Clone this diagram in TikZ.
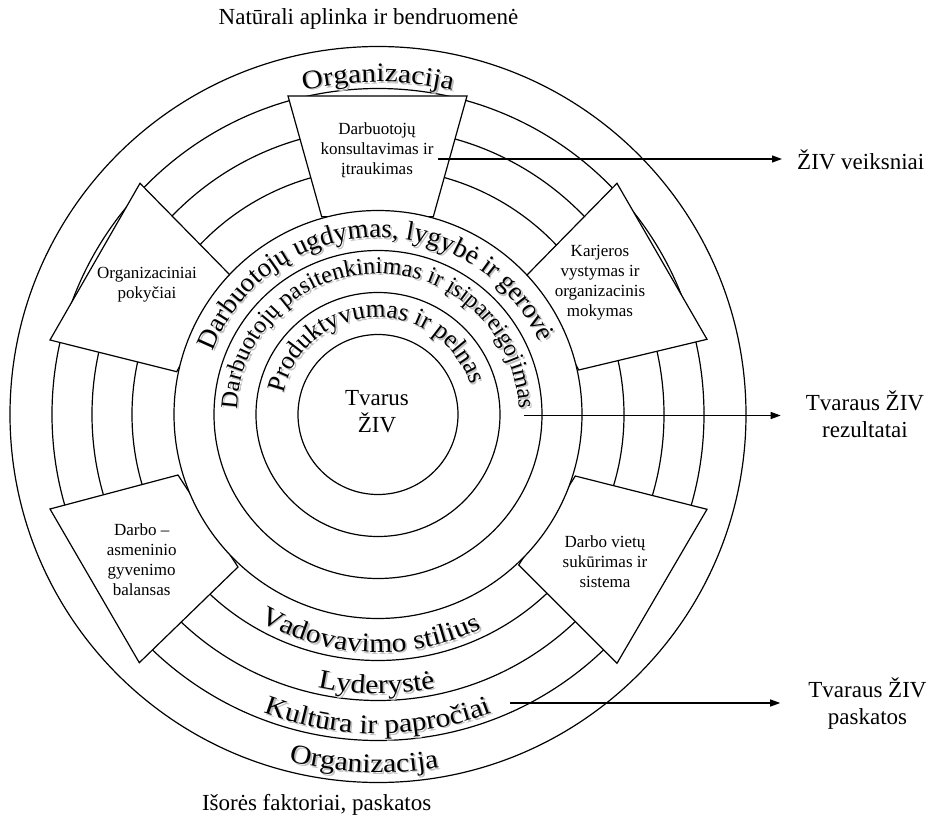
\documentclass[tikz,border=0pt]{standalone}
\usepackage{fontspec}
\setmainfont{Liberation Serif}
\newfontfamily\ringfont[FakeStretch=1.1]{Liberation Serif}
\usetikzlibrary{decorations.text,arrows.meta}

\tikzset{
  ring/.style={line width=1.2pt},
  panel/.style={draw, line width=1.2pt, fill=white, line join=miter},
  boxlabel/.style={align=center, font=\fontsize{17}{20}\selectfont, inner sep=0pt},
  sidelabel/.style={align=center, font=\fontsize{23}{27}\selectfont, inner sep=0pt},
  pointer/.style={line width=1.2pt, -{Triangle[length=10pt, width=7pt]}},
}

% text on an arc over the top of the circle, with a soft shadow
% #1 baseline radius, #2 centre angle, #3 font, #4 text
\newcommand\ArcTextTop[4]{%
  \begin{scope}[shift={(1.7,-1.7)}]
    \path[decorate, decoration={text along path, text align=center,
      text={|#3\color{black!25}|#4}}]
      ({#2+100}:#1) arc[start angle={#2+100}, end angle={#2-100}, radius=#1];
  \end{scope}
  \path[decorate, decoration={text along path, text align=center,
    text={|#3|#4}}]
    ({#2+100}:#1) arc[start angle={#2+100}, end angle={#2-100}, radius=#1];
}
% text on an arc under the bottom of the circle, reading upright
\newcommand\ArcTextBottom[4]{%
  \begin{scope}[shift={(1.7,-1.7)}]
    \path[decorate, decoration={text along path, text align=center,
      text={|#3\color{black!25}|#4}}]
      ({#2-60}:#1) arc[start angle={#2-60}, end angle={#2+60}, radius=#1];
  \end{scope}
  \path[decorate, decoration={text along path, text align=center,
    text={|#3|#4}}]
    ({#2-60}:#1) arc[start angle={#2-60}, end angle={#2+60}, radius=#1];
}

\begin{document}
\begin{tikzpicture}[x=1pt, y=1pt]
  \useasboundingbox (-378,-405.5) rectangle (559,414.5);
  \fill[white] (-378,-405.5) rectangle (559,414.5);

  % outer rings
  \draw[ring] (0,0) circle[radius=368];
  \draw[ring] (0,0) circle[radius=326];
  \draw[ring] (0,0) circle[radius=286];
  \draw[ring] (0,0) circle[radius=246];

  % the five factor panels
  \draw[panel] (-90,318.5) -- (89,318.5) -- (55.3,197.8) -- (-56.3,197.8) -- cycle;
  \draw[panel] (-238,231.2) -- (-328,74.5) -- (-201.3,42.8) -- (-148,139.5) -- cycle;
  \draw[panel] (239,231.2) -- (329,75.2) -- (200.7,44.5) -- (149,139.5) -- cycle;
  \draw[panel] (-328,-94.5) -- (-238.7,-248.2) -- (-140,-152.5) -- (-200,-60.5) -- cycle;
  \draw[panel] (197.3,-61.5) -- (329,-94.8) -- (239,-248.8) -- (140.7,-150.5) -- cycle;

  % inner rings
  \draw[ring, fill=white] (0,0) circle[radius=204];
  \draw[ring] (0,0) circle[radius=164];
  \draw[ring] (0,0) circle[radius=122];
  \draw[ring] (0,0) circle[radius=80];

  % ring captions
  \ArcTextTop{332.5}{90}{\ringfont\fontsize{26.7}{26.7}\selectfont}{Organizacija}
  \ArcTextTop{177}{91.5}{\fontsize{27}{27}\selectfont}{Darbuotojų ugdymas, lygybė ir gerovė}
  \ArcTextTop{141}{90}{\fontsize{24}{24}\selectfont}{Darbuotojų pasitenkinimas ir įsipareigojimas}
  \ArcTextTop{97}{92.5}{\fontsize{25.5}{25.5}\selectfont}{Produktyvumas ir pelnas}
  \ArcTextBottom{238}{268}{\ringfont\fontsize{27}{27}\selectfont}{Vadovavimo stilius}
  \ArcTextBottom{279}{269.7}{\ringfont\fontsize{27}{27}\selectfont}{Lyderystė}
  \ArcTextBottom{319}{270}{\ringfont\fontsize{27}{27}\selectfont}{Kultūra ir papročiai}
  \ArcTextBottom{358}{267.7}{\ringfont\fontsize{27}{27}\selectfont}{Organizacija}

  % panel captions
  \node[boxlabel] (konsult) at (-1,264.5) {Darbuotojų\\konsultavimas ir\\įtraukimas};
  \node[boxlabel] (pokyc) at (-231,129.5) {Organizaciniai\\pokyčiai};
  \node[boxlabel] (karj) at (222,131.5) {Karjeros\\vystymas ir\\organizacinis\\mokymas};
  \node[boxlabel] (balans) at (-236.3,-145.5) {Darbo –\\asmeninio\\gyvenimo\\balansas};
  \node[boxlabel] (vietu) at (227,-147.5) {Darbo vietų\\sukūrimas ir\\sistema};

  % centre and surrounding captions
  \node[sidelabel] (core) at (-1,2.5) {Tvarus\\ŽIV};
  \node[sidelabel] (natur) at (-9.5,395.5) {Natūrali aplinka ir bendruomenė};
  \node[sidelabel] (isor) at (-61.3,-390.5) {Išorės faktoriai, paskatos};
  \node[sidelabel, anchor=west] (veik) at (419,254.5) {ŽIV veiksniai};
  \node[sidelabel] (rez) at (487,0.5) {Tvaraus ŽIV\\rezultatai};
  \node[sidelabel] (pask) at (489.5,-289.5) {Tvaraus ŽIV\\paskatos};

  % pointers to the legend
  \coordinate (veik-from) at (60,255.5);
  \coordinate (rez-from) at (146,-1);
  \coordinate (pask-from) at (132,-288.5);
  \draw[pointer, shorten >=15pt] (veik-from) -- (veik-from -| veik.west);
  \draw[pointer, shorten >=25pt] (rez-from) -- (rez-from -| rez.west);
  \draw[pointer, shorten >=28pt] (pask-from) -- (pask-from -| pask.west);
\end{tikzpicture}
\end{document}
